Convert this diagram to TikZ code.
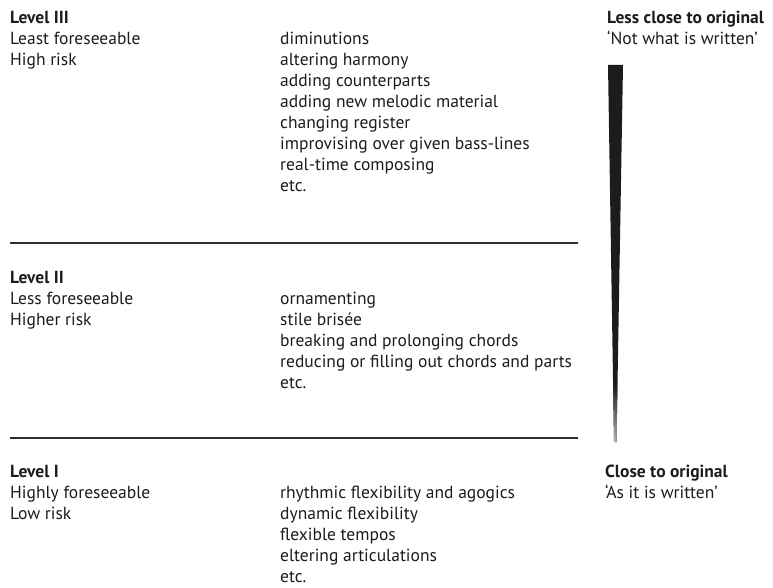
\documentclass[tikz,border=0pt]{standalone}
\usepackage{fontspec}
\setmainfont{PT Sans}
\definecolor{ink}{HTML}{1E1B1C}
\definecolor{rulecol}{HTML}{2E2E2E}
\begin{document}
\begin{tikzpicture}[x=1pt,y=-1pt,
  txt/.style={anchor=base west, inner sep=0pt, text=ink, font=\fontsize{17.5}{21}\selectfont},
  hdr/.style={txt, font=\fontsize{17.5}{21}\selectfont\bfseries},
  rulestyle/.style={draw=rulecol, line width=1.2pt}]
\useasboundingbox (0,0) rectangle (773,588);
% Level III
\node[hdr] (l3) at (10,24) {Level III};
\node[txt] (l3a) at (10,45) {Least foreseeable};
\node[txt] (l3b) at (10,66) {High risk};
\foreach \t [count=\i] in {diminutions,altering harmony,adding counterparts,adding new melodic material,changing register,improvising over given bass-lines,real-time composing,etc.}
  \node[txt] (r3-\i) at (280,{45+21*(\i-1)}) {\t};
\draw[rulestyle] (10,243) -- (578,243);
% Level II
\node[hdr] (l2) at (10,283) {Level II};
\node[txt] (l2a) at (10,304) {Less foreseeable};
\node[txt] (l2b) at (10,325) {Higher risk};
\foreach \t [count=\i] in {ornamenting,stile brisée,breaking and prolonging chords,reducing or filling out chords and parts,etc.}
  \node[txt] (r2-\i) at (280,{304+21*(\i-1)}) {\t};
\draw[rulestyle] (10,438) -- (578,438);
% Level I
\node[hdr] (l1) at (10,477) {Level I};
\node[txt] (l1a) at (10,498) {Highly foreseeable};
\node[txt] (l1b) at (10,519) {Low risk};
\foreach \t [count=\i] in {rhythmic flexibility and agogics,dynamic flexibility,flexible tempos,eltering articulations,etc.}
  \node[txt] (r1-\i) at (280,{498+21*(\i-1)}) {\t};
% right side
\node[hdr] (top) at (607,24) {Less close to original};
\node[txt] (topq) at (607,45) {‘Not what is written’};
\node[hdr] (bot) at (605,477) {Close to original};
\node[txt] (botq) at (605,498) {‘As it is written’};
\fill[ink] (608,65) -- (623,65) -- (616.5,442) -- (614,442) -- cycle;
\begin{scope}
  \clip (608,65) -- (623,65) -- (616.5,442) -- (614,442) -- cycle;
  \shade[top color=ink, bottom color=black!30] (600,385) rectangle (630,442);
\end{scope}
\end{tikzpicture}
\end{document}
